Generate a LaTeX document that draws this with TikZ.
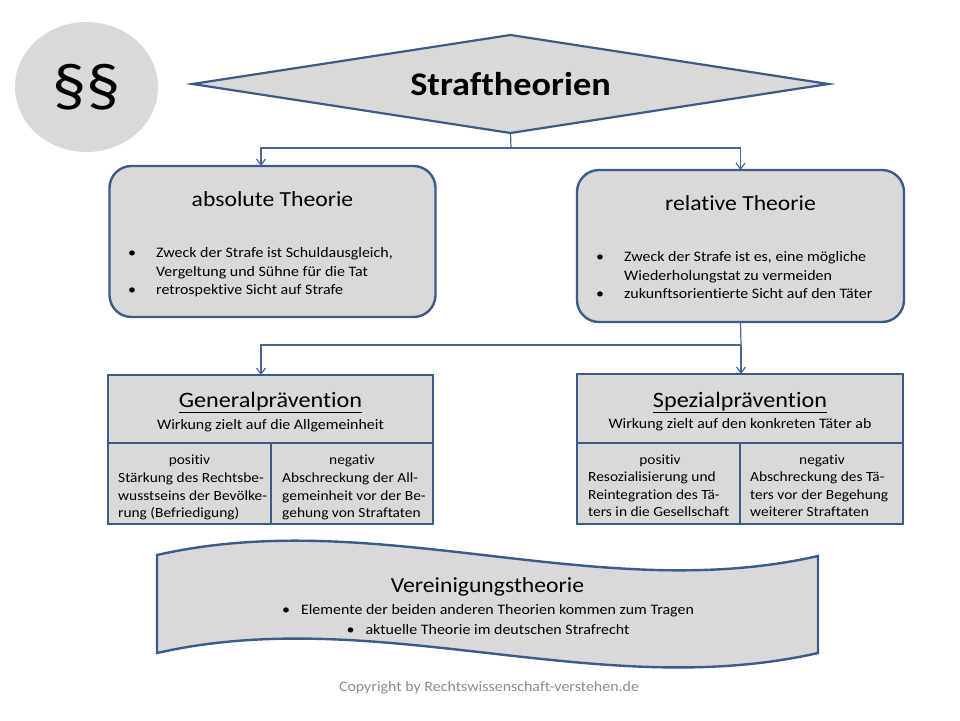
\documentclass[tikz,border=0pt]{standalone}
\usepackage{fontspec}
\setmainfont{Carlito}[FakeStretch=1.1,Ligatures=NoCommon]
\usepackage{tikz}
\usetikzlibrary{shapes.geometric,arrows.meta,positioning}

\definecolor{rahmenblau}{HTML}{3B5B88}
\definecolor{grauflaeche}{HTML}{D9D9D9}
\definecolor{verbinder}{HTML}{46679A}
\definecolor{copygrau}{HTML}{8C8C8C}

\newcommand{\fs}[2]{\fontsize{#1}{#2}\selectfont}
\newcommand{\pkt}{\makebox[28pt][l]{\textbullet}}
\newcommand{\einr}{\hspace*{28pt}}

\begin{document}
\begin{tikzpicture}[x=1pt,y=-1pt,
        box/.style={draw=rahmenblau,fill=grauflaeche,line width=2.4pt,inner sep=0,outer sep=0},
        zelle/.style={box},
        titel/.style={inner sep=0,text depth=0pt,font=\fs{21.5}{24}},
        kopf/.style={inner sep=0,text depth=0pt,font=\fs{22}{24}},
        unter/.style={inner sep=0,text depth=0pt,font=\fs{14.5}{17}},
        spalte/.style={inner sep=0,text depth=0pt,font=\fs{14}{17}},
        spaltentext/.style={anchor=west,align=left,inner sep=0,text depth=0pt,font=\fs{14}{17.5}},
        liste/.style={anchor=west,align=left,inner sep=0,text depth=0pt,font=\fs{14.5}{18.5}},
        mitte/.style={align=center,inner sep=0,text depth=0pt,font=\fs{14.5}{20}},
        linie/.style={draw=verbinder,line width=1.2pt},
        pfeil/.style={linie,-{Straight Barb[length=6pt,width=9pt]}}]
        \useasboundingbox (0,0) rectangle (960,720);

        % Kopf
        \node[fill=grauflaeche,ellipse,minimum width=143pt,minimum height=130pt,inner sep=0] (para) at (86.5,87) {\fs{62}{64}§§};
        \node[box,diamond,aspect=6.5,line width=2.2pt,minimum width=636pt,minimum height=98pt] (title) at (510.5,84) {\fs{33}{36}\bfseries Straftheorien};

        % absolute und relative Theorie
        \node[box,rounded corners=22pt,minimum width=326pt,minimum height=151pt] (abs) at (272.5,241.5) {};
        \node[box,rounded corners=22pt,minimum width=327pt,minimum height=152pt] (rel) at (740.5,246) {};
        \node[titel] (absT) at (272.5,199) {absolute Theorie};
        \node[titel] (relT) at (740.5,203) {relative Theorie};
        \node[liste] (absL) at (128,271) {\pkt Zweck der Strafe ist Schuldausgleich,\\\einr Vergeltung und Sühne für die Tat\\\pkt retrospektive Sicht auf Strafe};
        \node[liste] (relL) at (596,275) {\pkt Zweck der Strafe ist es, eine mögliche\\\einr Wiederholungstat zu vermeiden\\\pkt zukunftsorientierte Sicht auf den Täter};

        % General- und Spezialpraevention
        \node[zelle,minimum width=325pt,minimum height=68pt] (gen) at (270.5,409) {};
        \node[zelle,minimum width=163pt,minimum height=81pt,anchor=north west] (genPos) at (gen.south west) {};
        \node[zelle,minimum width=162pt,minimum height=81pt,anchor=north east] (genNeg) at (gen.south east) {};
        \node[zelle,minimum width=326pt,minimum height=69pt] (spez) at (740,408.5) {};
        \node[zelle,minimum width=163pt,minimum height=81pt,anchor=north west] (spezPos) at (spez.south west) {};
        \node[zelle,minimum width=163pt,minimum height=81pt,anchor=north east] (spezNeg) at (spez.south east) {};

        \node[kopf] (genT) at (270.5,400) {\underline{Generalprävention}};
        \node[unter] (genU) at (270.5,424) {Wirkung zielt auf die Allgemeinheit};
        \node[spalte] (genPosT) at (189.5,460) {positiv};
        \node[spalte] (genNegT) at (352,460) {negativ};
        \node[spaltentext] (genPosL) at (118,495.5) {Stärkung des Rechtsbe-\\wusstseins der Bevölke-\\rung (Befriedigung)};
        \node[spaltentext] (genNegL) at (282,495.5) {Abschreckung der All-\\gemeinheit vor der Be-\\gehung von Straftaten};

        \node[kopf] (spezT) at (740,400) {\underline{Spezialprävention}};
        \node[unter] (spezU) at (740,423) {Wirkung zielt auf den konkreten Täter ab};
        \node[spalte] (spezPosT) at (660,460) {positiv};
        \node[spalte] (spezNegT) at (822,460) {negativ};
        \node[spaltentext] (spezPosL) at (588,494.5) {Resozialisierung und\\Reintegration des Tä-\\ters in die Gesellschaft};
        \node[spaltentext] (spezNegL) at (750,494.5) {Abschreckung des Tä-\\ters vor der Begehung\\weiterer Straftaten};

        % Vereinigungstheorie
        \draw[box] (157,555) .. controls (377,505) and (598,606) .. (818,556)
                -- (818,653) .. controls (598,703) and (377,603) .. (157,653) -- cycle;
        \node[titel] (verT) at (487.5,585) {Vereinigungstheorie};
        \node[mitte] (verL) at (488,619) {\textbullet\hspace{11pt}Elemente der beiden anderen Theorien kommen zum Tragen\\\textbullet\hspace{11pt}aktuelle Theorie im deutschen Strafrecht};

        \node[inner sep=0,text=copygrau,font=\fs{14.5}{17}] (copy) at (489,688) {Copyright by Rechtswissenschaft-verstehen.de};

        % Verbindungen
        \coordinate (split1) at (511,148);
        \coordinate (split2) at (741,345);
        \draw[linie] (title.south) -- (split1);
        \draw[pfeil] (split1) -| ([xshift=-11.5pt]abs.north);
        \draw[pfeil] (split1) -| (rel.north);
        \draw[linie] (rel.south) -- (split2);
        \draw[pfeil] (split2) -| ([xshift=-9.5pt]gen.north);
        \draw[pfeil] (split2) -| ([xshift=1pt]spez.north);
\end{tikzpicture}
\end{document}
